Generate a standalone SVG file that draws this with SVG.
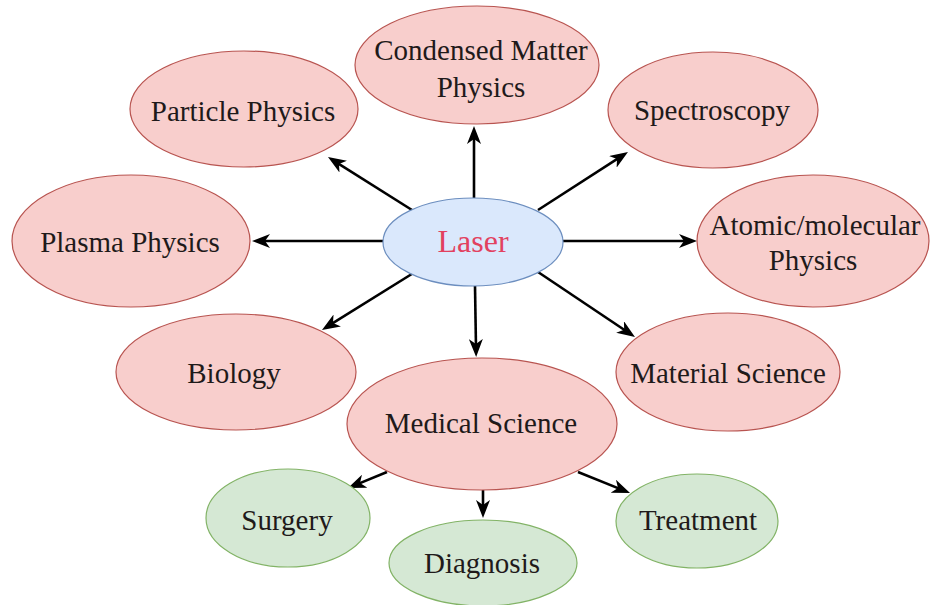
<svg xmlns="http://www.w3.org/2000/svg" width="930" height="605" viewBox="0 0 930 605">
<style>
.pink{fill:#f8cecc;stroke:#b85450;stroke-width:1.2}
.green{fill:#d5e8d4;stroke:#82b366;stroke-width:1.2}
.blue{fill:#dae8fc;stroke:#6c8ebf;stroke-width:1.2}
text{font-family:"Liberation Serif","Times New Roman",serif;font-size:29px;fill:#1f1a1a;text-anchor:middle}
.laser{font-size:32px;fill:#e2415f}
.edge{fill:none;stroke:#000;stroke-width:2.6;marker-end:url(#arr)}
</style>
<defs>
<marker id="arr" markerUnits="userSpaceOnUse" markerWidth="18" markerHeight="14" refX="9" refY="7" orient="auto">
<path d="M0,0 L18,7 L0,14 L5,7 Z" fill="#000"/>
</marker>
</defs>
<rect width="930" height="605" fill="#fff"/>
<g id="connectors">
<path class="edge" d="M474,198 L474,135"/>
<path class="edge" d="M412,210 L335.6,161.8"/>
<path class="edge" d="M538,210 L620.4,156.9"/>
<path class="edge" d="M383,241 L261,241"/>
<path class="edge" d="M563,241 L688,241"/>
<path class="edge" d="M415,272 L329.6,325.2"/>
<path class="edge" d="M538,272 L627.5,332"/>
<path class="edge" d="M475,286 L476,348"/>
<path class="edge" d="M387,472 L356.3,484.6"/>
<path class="edge" d="M483,490 L483,509"/>
<path class="edge" d="M578,472 L621.7,489.6"/>
</g>
<g id="laser">
<ellipse class="blue" cx="473" cy="242" rx="90" ry="44"/>
<text class="laser" x="473" y="252">Laser</text>
</g>
<g id="condensed">
<ellipse class="pink" cx="477" cy="65" rx="122" ry="59"/>
<text x="481" y="60">Condensed Matter</text>
<text x="481" y="97">Physics</text>
</g>
<g id="particle">
<ellipse class="pink" cx="244" cy="109" rx="114" ry="58"/>
<text x="243" y="121">Particle Physics</text>
</g>
<g id="spectroscopy">
<ellipse class="pink" cx="713" cy="110" rx="105" ry="58"/>
<text x="712" y="120">Spectroscopy</text>
</g>
<g id="plasma">
<ellipse class="pink" cx="131" cy="241" rx="119" ry="66"/>
<text x="130" y="252">Plasma Physics</text>
</g>
<g id="atomic">
<ellipse class="pink" cx="813" cy="241" rx="116" ry="66"/>
<text x="815" y="235">Atomic/molecular</text>
<text x="813" y="270">Physics</text>
</g>
<g id="biology">
<ellipse class="pink" cx="236" cy="372" rx="120" ry="58"/>
<text x="234" y="383">Biology</text>
</g>
<g id="material">
<ellipse class="pink" cx="728" cy="372" rx="112" ry="59"/>
<text x="728" y="383">Material Science</text>
</g>
<g id="medical">
<ellipse class="pink" cx="482" cy="424" rx="135" ry="66"/>
<text x="481" y="433">Medical Science</text>
</g>
<g id="surgery">
<ellipse class="green" cx="288" cy="518" rx="82" ry="49"/>
<text x="287" y="530">Surgery</text>
</g>
<g id="diagnosis">
<ellipse class="green" cx="483" cy="563" rx="94" ry="43"/>
<text x="482" y="573">Diagnosis</text>
</g>
<g id="treatment">
<ellipse class="green" cx="697" cy="521" rx="81" ry="47"/>
<text x="698" y="530">Treatment</text>
</g>
</svg>
